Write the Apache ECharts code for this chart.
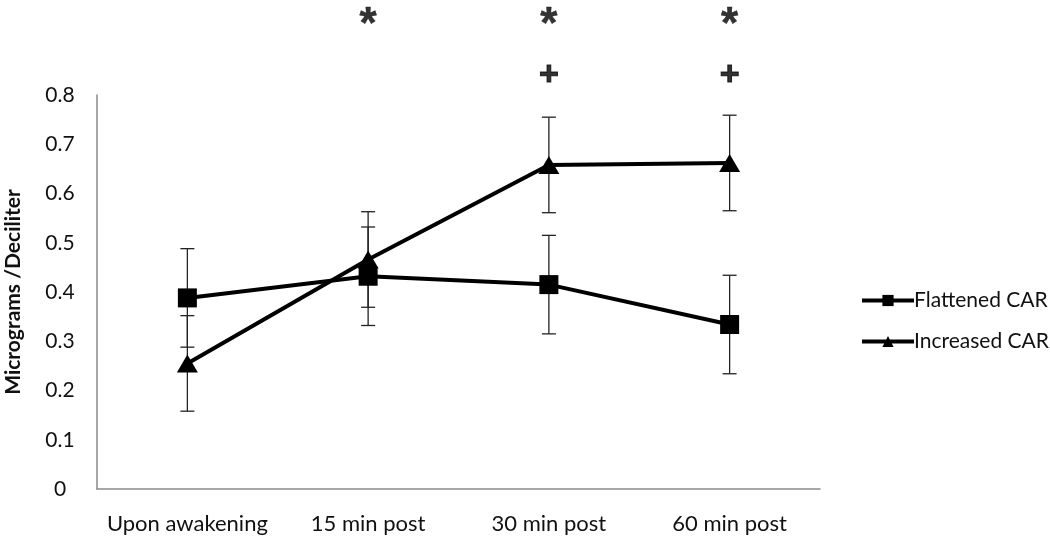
<!DOCTYPE html>
<html>
<head>
<meta charset="utf-8">
<script src="https://cdn.jsdelivr.net/npm/echarts@6/dist/echarts.min.js"></script>
<style>
html,body{margin:0;padding:0;background:#fff;}
#chart{width:1050px;height:542px;}
</style>
</head>
<body>
<div id="chart"></div>
<script>
const categories = ['Upon awakening', '15 min post', '30 min post', '60 min post'];
const flattened = [0.388, 0.432, 0.415, 0.334];
const flattenedErr = [0.100, 0.100, 0.100, 0.100];
const increased = [0.255, 0.466, 0.658, 0.662];
const increasedErr = [0.097, 0.097, 0.097, 0.097];
const starMarks = ['', '*', '*', '*'];
const plusMarks = ['', '', '+', '+'];
const starLevel = 0.94;
const plusLevel = 0.84;
const yTicks = [0, 0.1, 0.2, 0.3, 0.4, 0.5, 0.6, 0.7, 0.8];

const FONT = 'Lato';

function errData(vals, errs) {
  return vals.map((v, i) => [i, v - errs[i], v + errs[i]]);
}
function errRender(params, api) {
  const x = api.value(0);
  const lo = api.coord([x, api.value(1)]);
  const hi = api.coord([x, api.value(2)]);
  const hw = 7;
  const style = { stroke: '#222', lineWidth: 1.3, fill: null };
  return {
    type: 'group',
    children: [
      { type: 'line', shape: { x1: lo[0], y1: lo[1], x2: hi[0], y2: hi[1] }, style },
      { type: 'line', shape: { x1: lo[0] - hw, y1: lo[1], x2: lo[0] + hw, y2: lo[1] }, style },
      { type: 'line', shape: { x1: hi[0] - hw, y1: hi[1], x2: hi[0] + hw, y2: hi[1] }, style }
    ]
  };
}
function markData(marks, level) {
  return marks.map((m, i) => m ? { value: [i, level], label: { formatter: m } } : null).filter(Boolean);
}
const plusLabel = {
  show: true, position: 'inside', fontSize: 34, fontWeight: 'bold', color: '#000',
  fontFamily: 'Liberation Sans', textBorderColor: '#000', textBorderWidth: 1
};
const starLabel = {
  show: true, position: 'inside', fontSize: 44, fontWeight: 'bold', color: '#000',
  fontFamily: 'Liberation Sans', textBorderColor: '#000', textBorderWidth: 0.5
};

const chart = echarts.init(document.getElementById('chart'));
chart.setOption({
  animation: false,
  backgroundColor: '#fff',
  grid: { left: 97, right: 230, top: 95, bottom: 53, outerBoundsMode: 'none', containLabel: false },
  legend: {
    orient: 'vertical',
    left: 855,
    top: 285,
    itemWidth: 52,
    itemHeight: 14,
    itemGap: 20,
    data: ['Flattened CAR', 'Increased CAR'],
    lineStyle: { width: 4 },
    textStyle: { fontFamily: FONT, fontSize: 21, color: '#111', padding: [0, 0, 0, -5] }
  },
  xAxis: {
    type: 'category',
    data: categories,
    axisLine: { lineStyle: { color: '#8a8a8a', width: 1.5 } },
    axisTick: { show: false },
    axisLabel: { fontFamily: FONT, fontSize: 22, color: '#111', margin: 24, interval: 0, hideOverlap: false }
  },
  yAxis: {
    type: 'value',
    min: yTicks[0],
    max: yTicks[yTicks.length - 1],
    interval: 0.1,
    name: 'Micrograms /Deciliter',
    nameLocation: 'middle',
    nameGap: 73,
    nameTextStyle: { fontFamily: FONT, fontSize: 21, fontWeight: 'bold', color: '#111' },
    axisLine: { show: true, lineStyle: { color: '#8a8a8a', width: 1.5 } },
    axisTick: { show: false },
    splitLine: { show: false },
    axisLabel: { fontFamily: FONT, fontSize: 21, color: '#111', margin: 37, align: 'center',
      formatter: v => String(Math.round(v * 10) / 10) }
  },
  series: [
    {
      type: 'custom', name: 'errF', renderItem: errRender, data: errData(flattened, flattenedErr),
      z: 1, silent: true, encode: { x: 0, y: [1, 2] }
    },
    {
      type: 'custom', name: 'errI', renderItem: errRender, data: errData(increased, increasedErr),
      z: 1, silent: true, encode: { x: 0, y: [1, 2] }
    },
    {
      name: 'Flattened CAR', type: 'line', data: flattened,
      symbol: 'rect', symbolSize: 19,
      lineStyle: { color: '#000', width: 4 },
      itemStyle: { color: '#000' }, z: 3
    },
    {
      name: 'Increased CAR', type: 'line', data: increased,
      symbol: 'triangle', symbolSize: [21, 18],
      lineStyle: { color: '#000', width: 4 },
      itemStyle: { color: '#000' }, z: 3
    },
    {
      type: 'scatter', name: 'stars', data: markData(starMarks, starLevel),
      symbolSize: 0, clip: false, silent: true, label: starLabel
    },
    {
      type: 'scatter', name: 'plus', data: markData(plusMarks, plusLevel),
      symbolSize: 0, clip: false, silent: true, label: plusLabel
    }
  ]
});
</script>
</body>
</html>
